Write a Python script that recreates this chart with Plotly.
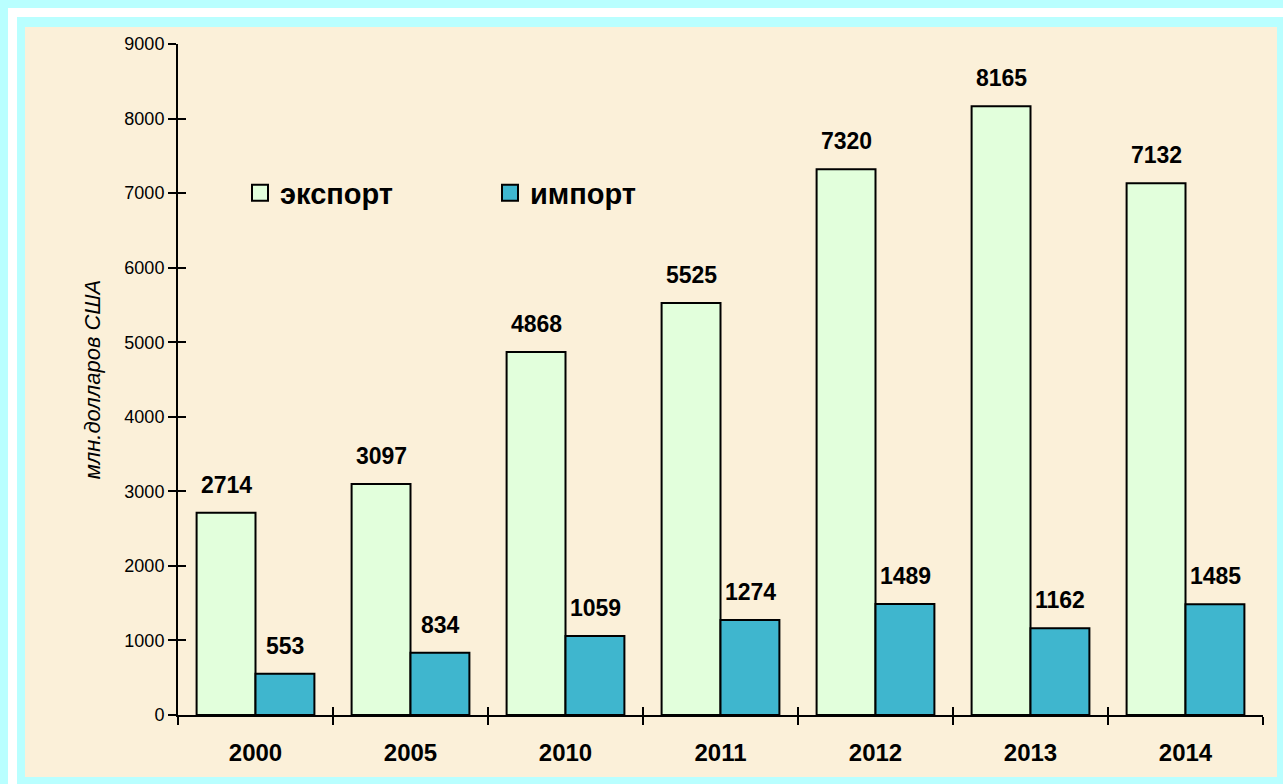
import plotly.graph_objects as go

years = ["2000", "2005", "2010", "2011", "2012", "2013", "2014"]
export_vals = [2714, 3097, 4868, 5525, 7320, 8165, 7132]
import_vals = [553, 834, 1059, 1274, 1489, 1162, 1485]
series_names = ["экспорт", "импорт"]
y_title = "млн.долларов США"

W, H = 1283, 784
L, R, T, B = 178, 20, 44, 69
PW, PH = W - L - R, H - T - B

def px_x(p):
    return (p - L) / PW

def px_y(p):
    return (H - B - p) / PH

FONT = "Liberation Sans, Arial, sans-serif"
EXP_COL = "#E2FFDC"
IMP_COL = "#3FB6CE"

fig = go.Figure()
fig.add_trace(go.Bar(x=years, y=export_vals, name=series_names[0], marker=dict(color=EXP_COL, line=dict(color="black", width=2)), showlegend=False, hoverinfo="skip"))
fig.add_trace(go.Bar(x=years, y=import_vals, name=series_names[1], marker=dict(color=IMP_COL, line=dict(color="black", width=2)), showlegend=False, hoverinfo="skip"))
# legend entries
for nm, col in zip(series_names, [EXP_COL, IMP_COL]):
    fig.add_trace(go.Scatter(x=[None], y=[None], mode="markers", name=nm,
                             marker=dict(symbol="square", size=19, color=col, line=dict(color="black", width=2))))
# helper trace for the inner tick axes
fig.add_trace(go.Scatter(x=years, y=[0] * len(years), mode="markers", marker=dict(opacity=0, size=1),
                         xaxis="x2", yaxis="y2", showlegend=False, hoverinfo="skip"))

for i, (yr, ev, iv) in enumerate(zip(years, export_vals, import_vals)):
    for v, sh in ((ev, -29.5), (iv, 29.5)):
        fig.add_annotation(x=i, y=v, xref="x", yref="y", text="<b>%d</b>" % v, showarrow=False,
                           xshift=sh, yshift=13, yanchor="bottom",
                           font=dict(family=FONT, size=23, color="black"))

shapes = [
    dict(type="rect", xref="paper", yref="paper", x0=px_x(8), x1=px_x(W), y0=px_y(8), y1=px_y(H),
         fillcolor="#FFFFFF", line=dict(width=0), layer="below"),
    dict(type="rect", xref="paper", yref="paper", x0=px_x(17), x1=px_x(W), y0=px_y(17), y1=px_y(H),
         fillcolor="#B9FFFF", line=dict(width=0), layer="below"),
    dict(type="rect", xref="paper", yref="paper", x0=px_x(25), x1=px_x(1277), y0=px_y(27), y1=px_y(777),
         fillcolor="#FBF0D9", line=dict(width=0), layer="below"),
]

fig.update_layout(
    width=W, height=H,
    margin=dict(l=L, r=R, t=T, b=B),
    paper_bgcolor="#B9FFFF",
    plot_bgcolor="rgba(0,0,0,0)",
    barmode="group", bargap=0.24, bargroupgap=0,
    font=dict(family=FONT, color="black"),
    shapes=shapes,
    legend=dict(orientation="h", x=px_x(240), y=px_y(193), xanchor="left", yanchor="middle",
                bgcolor="rgba(0,0,0,0)", entrywidth=205, entrywidthmode="pixels",
                font=dict(family=FONT, size=29, color="black", weight="bold")),
    xaxis=dict(type="category", categoryorder="array", categoryarray=years, range=[-0.5, 6.5],
               showline=True, linecolor="black", linewidth=2, ticks="outside", ticklen=8, tickwidth=2,
               tickcolor="black", tickson="boundaries", showgrid=False, zeroline=False,
               ticklabelstandoff=15,
               tickfont=dict(family=FONT, size=24, color="black", weight="bold")),
    yaxis=dict(range=[0, 9000], dtick=1000, showline=True, linecolor="black", linewidth=2,
               ticks="outside", ticklen=8, tickwidth=2, tickcolor="black", showgrid=False, zeroline=False,
               tickfont=dict(family=FONT, size=18, color="black"),
               title=dict(text=y_title, standoff=18, font=dict(family=FONT, size=22, color="black", style="italic"))),
    xaxis2=dict(type="category", categoryorder="array", categoryarray=years, range=[-0.5, 6.5],
                overlaying="x", anchor="y2", side="bottom", ticks="inside", ticklen=8, tickwidth=2,
                tickcolor="black", tickson="boundaries", showticklabels=False, showgrid=False,
                zeroline=False, showline=False),
    yaxis2=dict(range=[0, 9000], dtick=1000, overlaying="y", anchor="x2", side="left", ticks="inside",
                ticklen=8, tickwidth=2, tickcolor="black", showticklabels=False, showgrid=False,
                zeroline=False, showline=False),
)

fig.write_html("out.html", config={"displayModeBar": False},
               post_script="document.body.style.margin='0';document.body.style.background='#B9FFFF';")
